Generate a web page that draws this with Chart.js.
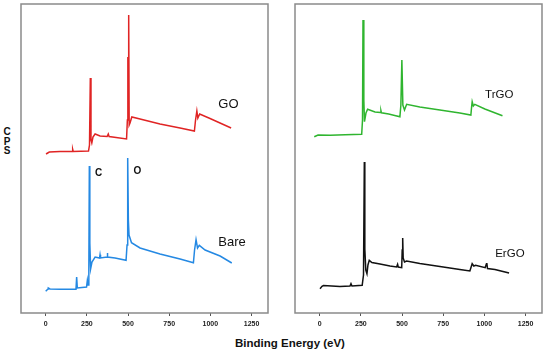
<!DOCTYPE html>
<html>
<head>
<meta charset="utf-8">
<script src="https://cdn.jsdelivr.net/npm/chart.js@4.4.1/dist/chart.umd.min.js"></script>
<style>
  body { margin: 0; width: 550px; height: 354px; background: #fff; position: relative; overflow: hidden;
         font-family: 'Liberation Sans', Arial, sans-serif; }
  canvas { position: absolute; }
  .axis-title { position: absolute; font-weight: bold; color: #111; white-space: nowrap; }
</style>
</head>
<body>
<canvas id="leftChart" width="251" height="331" style="left:19px;top:2px"></canvas>
<canvas id="rightChart" width="251" height="331" style="left:293px;top:2px"></canvas>
<div class="axis-title" id="cps" style="left:1px;top:127px;width:12px;font-size:10px;line-height:9.5px;text-align:center">C<br>P<br>S</div>
<div class="axis-title" style="left:290px;top:343px;font-size:11.5px;transform:translate(-50%,-50%)">Binding Energy (eV)</div>
<script>
// x ticks (eV)
const xTicks = [0, 250, 500, 750, 1000, 1250];

// GO survey (red)
const goEv  = [2, 22, 87, 162, 164, 167, 260, 266, 271, 275, 280, 287, 300, 330, 373, 380, 385, 491, 496, 499, 501, 504, 507, 512, 523, 573, 694, 816, 903, 910, 918, 924, 935, 998, 1126];
const goCps = [159, 161, 161.5, 161.5, 163.5, 161.5, 162, 168, 235, 173, 170, 176, 179, 177, 176.5, 179, 176.5, 174, 193, 256, 213, 298, 188, 190, 196, 194, 189, 185, 182, 193, 202, 195, 199, 194.5, 185];

// Bare survey (blue)
const bareEv  = [0, 14, 16, 26, 87, 184, 188, 192, 248, 253, 257, 262, 265, 268, 273, 281, 300, 327, 330, 333, 373, 374, 377, 421, 488, 494, 498, 502, 506, 521, 573, 694, 816, 897, 904, 913, 922, 933, 968, 1059, 1130];
const bareCps = [21.7, 24, 25, 24, 23.7, 23.7, 36, 25, 26, 32.7, 28, 43, 147, 70, 44.3, 51, 56, 55, 58.3, 55, 56, 60, 56, 55, 52.7, 68, 155, 93, 78, 70.3, 65, 59, 54, 50.3, 63, 73.3, 65, 67.7, 63, 57, 50];

// TrGO survey (green)
const trgoEv  = [-33, -10, 63, 154, 255, 260, 263, 268, 272, 281, 291, 336, 369, 372, 375, 419, 487, 493, 499, 505, 515, 528, 608, 730, 851, 918, 923, 926, 933, 942, 1003, 1110];
const trgoCps = [176.3, 178, 177.7, 178.2, 178.7, 193, 293, 213, 191.3, 200, 203.7, 201, 200.5, 202.3, 200.2, 199, 196.3, 208, 253, 208, 203, 208.7, 206, 203, 200, 198, 207, 211.3, 207, 208.7, 204, 197.3];

// ErGO survey (black)
const ergoEv  = [2, 14, 23, 123, 184, 190, 196, 258, 266, 271, 274, 280, 287, 293, 301, 317, 366, 427, 467, 473, 477, 498, 501, 504, 507, 515, 528, 608, 730, 851, 912, 926, 936, 947, 1005, 1012, 1015, 1019, 1064, 1150];
const ergoCps = [24.3, 26.7, 27.5, 26.5, 27, 29.3, 27, 27.7, 38, 151, 64, 43, 39.3, 48, 52.7, 50.5, 49, 47, 46, 48.7, 46, 45.3, 63, 75, 55, 51, 52, 49.5, 46.5, 43.5, 42, 49.3, 47, 47.7, 45.3, 49, 50, 44.5, 43.5, 40];

const pts = (xs, ys) => xs.map((x, i) => ({ x: x, y: ys[i] }));

// box around the plot area plus text labels placed in data units
const framePlugin = {
  id: 'frame',
  afterDraw(chart, args, opts) {
    const { ctx, chartArea: a, scales } = chart;
    ctx.save();
    ctx.strokeStyle = '#8a8a8a';
    ctx.lineWidth = 1.5;
    ctx.strokeRect(a.left, a.top, a.right - a.left, a.bottom - a.top);
    ctx.textAlign = 'center';
    ctx.textBaseline = 'middle';
    (opts.notes || []).forEach((n) => {
      ctx.font = n.font;
      ctx.fillStyle = '#111';
      ctx.fillText(n.text, scales.x.getPixelForValue(n.x), scales.y.getPixelForValue(n.y));
    });
    ctx.restore();
  }
};

function makeChart(id, datasets, notes) {
  return new Chart(document.getElementById(id), {
    type: 'line',
    data: { datasets: datasets },
    options: {
      responsive: false,
      animation: false,
      layout: { padding: { left: 2, right: 2, top: 2, bottom: 0 } },
      plugins: { legend: { display: false }, tooltip: { enabled: false }, frame: { notes: notes } },
      elements: { point: { radius: 0 }, line: { borderWidth: 1.5, tension: 0 } },
      scales: {
        x: {
          type: 'linear',
          min: -150,
          max: 1350,
          afterBuildTicks: (scale) => { scale.ticks = xTicks.map((v) => ({ value: v })); },
          afterFit: (scale) => { scale.height = 20; },
          grid: { drawOnChartArea: false, drawTicks: true, tickLength: 3, color: '#555' },
          border: { display: false },
          ticks: {
            color: '#222',
            font: { family: 'Liberation Sans', size: 7, weight: 'bold' },
            padding: 4,
            maxRotation: 0,
            callback: (v) => String(v)
          }
        },
        y: { display: false, min: 0, max: 309 }
      }
    },
    plugins: [framePlugin]
  });
}

makeChart('leftChart', [
  { label: 'GO', data: pts(goEv, goCps), borderColor: '#e02424' },
  { label: 'Bare', data: pts(bareEv, bareCps), borderColor: '#2589e3' }
], [
  { text: 'GO', x: 1110, y: 209, font: '13px "Liberation Sans"' },
  { text: 'Bare', x: 1132, y: 71, font: '13px "Liberation Sans"' },
  { text: 'C', x: 322, y: 140, font: 'bold 10px "Liberation Sans"' },
  { text: 'O', x: 557, y: 142, font: 'bold 10px "Liberation Sans"' }
]);

makeChart('rightChart', [
  { label: 'TrGO', data: pts(trgoEv, trgoCps), borderColor: '#2fb52f' },
  { label: 'ErGO', data: pts(ergoEv, ergoCps), borderColor: '#111111' }
], [
  { text: 'TrGO', x: 1090, y: 218, font: '11.5px "Liberation Sans"' },
  { text: 'ErGO', x: 1155, y: 58.7, font: '11.5px "Liberation Sans"' }
]);
</script>
</body>
</html>
